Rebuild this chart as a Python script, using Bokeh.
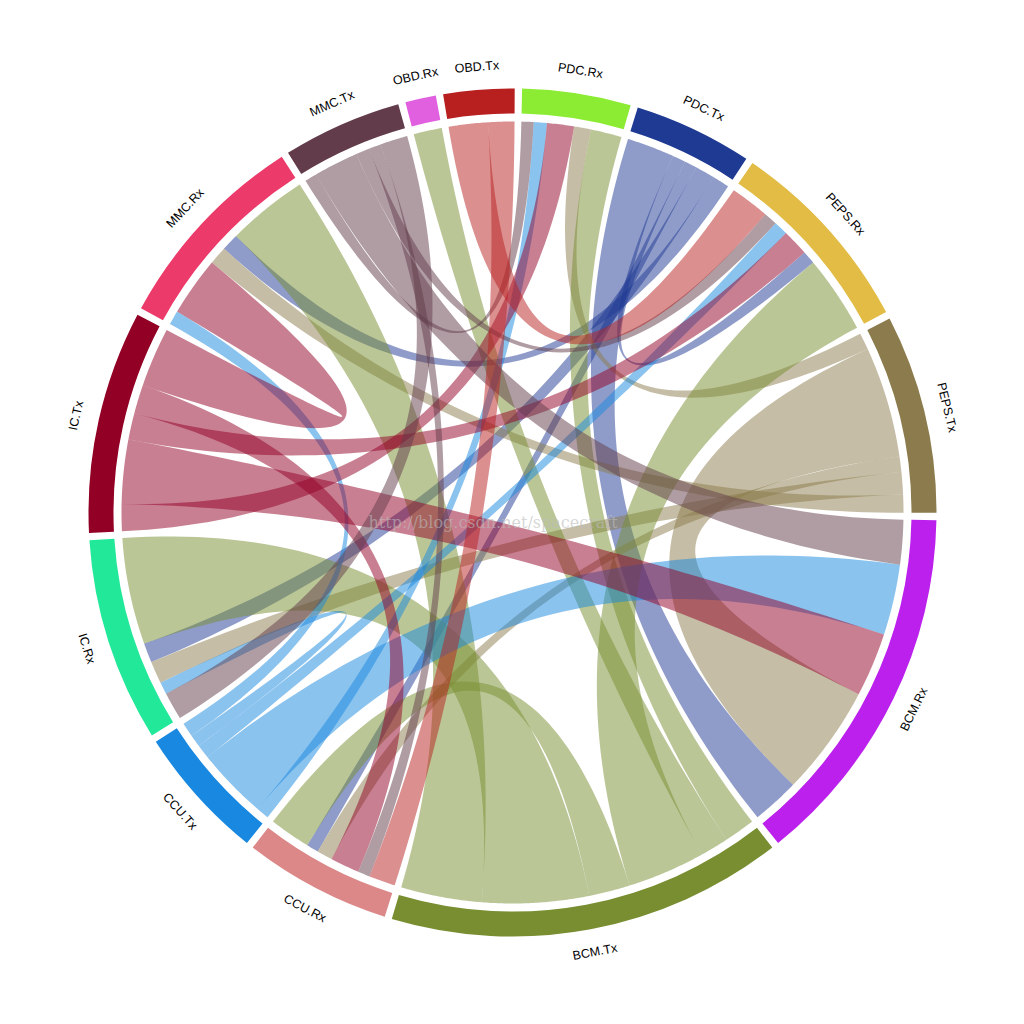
import math
from bokeh.plotting import figure
from bokeh.models import Range1d
from bokeh.embed import file_html
from bokeh.resources import INLINE
from bokeh.core.properties import value

# ---------------- data ----------------
groups = ["PDC.Rx", "PDC.Tx", "PEPS.Rx", "PEPS.Tx", "BCM.Rx", "BCM.Tx", "CCU.Rx",
          "CCU.Tx", "IC.Rx", "IC.Tx", "MMC.Rx", "MMC.Tx", "OBD.Rx", "OBD.Tx"]
group_colors = ["#8cec34", "#1f3a93", "#e2bc45", "#8c7b4c", "#bc20ec", "#788e30", "#dc8888",
                "#1888e0", "#22e899", "#930026", "#ec3b6b", "#623c4a", "#e060e0", "#b81f1f"]

rx_names = ["PDC.Rx", "PEPS.Rx", "BCM.Rx", "CCU.Rx", "IC.Rx", "MMC.Rx", "OBD.Rx"]
flows_PDC_Tx = [0, 1.95, 7.05, 1.8, 2.9, 2.55, 0]
flows_PEPS_Tx = [2.5, 0, 16.4, 2.3, 3.3, 2.7, 0]
flows_BCM_Tx = [4.6, 11.5, 0, 6.1, 15.8, 12.0, 4.2]
flows_CCU_Tx = [1.95, 2.1, 10.5, 0, 1.8, 2.1, 0]
flows_IC_Tx = [4.0, 3.9, 9.5, 4.3, 0, 8.8, 0]
flows_MMC_Tx = [1.8, 2.0, 6.6, 1.8, 4.1, 0, 0]
flows_OBD_Tx = [0, 5.8, 0, 3.9, 0, 0, 0]

tx_flows = {"PDC.Tx": flows_PDC_Tx, "PEPS.Tx": flows_PEPS_Tx, "BCM.Tx": flows_BCM_Tx,
            "CCU.Tx": flows_CCU_Tx, "IC.Tx": flows_IC_Tx, "MMC.Tx": flows_MMC_Tx,
            "OBD.Tx": flows_OBD_Tx}

# order of sub-ribbons inside each receiver / transmitter arc (clockwise)
rx_side_order = ["OBD.Tx", "MMC.Tx", "CCU.Tx", "IC.Tx", "PEPS.Tx", "PDC.Tx", "BCM.Tx"]
tx_side_order = ["PDC.Rx", "OBD.Rx", "BCM.Rx", "PEPS.Rx", "CCU.Rx", "IC.Rx", "MMC.Rx"]

watermark = "http://blog.csdn.net/spacecraft"

# ---------------- layout ----------------
GAP = 1.0
START = 1.3
R_CHORD = 391
R_IN, R_OUT = 399, 424
R_LABEL = 447

flow = {}
for tx, vals in tx_flows.items():
    for rx, v in zip(rx_names, vals):
        if v > 0:
            flow[(tx, rx)] = v

total = 2 * sum(flow.values())
k = (360.0 - GAP * len(groups)) / total

group_span = {}
sub_span = {}
a = START
for g in groups:
    g0 = a
    if g.endswith(".Tx"):
        for rx in tx_side_order:
            v = flow.get((g, rx), 0)
            if v > 0:
                sub_span[(g, rx, "tx")] = (a, a + v * k)
                a += v * k
    else:
        for tx in rx_side_order:
            v = flow.get((tx, g), 0)
            if v > 0:
                sub_span[(tx, g, "rx")] = (a, a + v * k)
                a += v * k
    group_span[g] = (g0, a)
    a += GAP


def pt(theta, r):
    t = math.radians(theta)
    return r * math.sin(t), r * math.cos(t)


def arc_pts(t0, t1, r):
    n = max(3, int(abs(t1 - t0) * 3) + 2)
    return [pt(t0 + (t1 - t0) * i / (n - 1), r) for i in range(n)]


def bez(p, q, n=60):
    out = []
    for i in range(1, n + 1):
        t = i / n
        out.append(((1 - t) ** 2 * p[0] + t * t * q[0], (1 - t) ** 2 * p[1] + t * t * q[1]))
    return out


p = figure(width=1000, height=1000, x_range=Range1d(-512, 488), y_range=Range1d(-488, 512),
           output_backend="svg", toolbar_location=None, min_border=0)
p.axis.visible = False
p.grid.visible = False
p.outline_line_color = None
p.background_fill_color = "white"
p.border_fill_color = "white"

# ribbons
xs, ys, cols = [], [], []
color_of = dict(zip(groups, group_colors))
for (tx, rx), v in flow.items():
    s0, s1 = sub_span[(tx, rx, "tx")]
    t0, t1 = sub_span[(tx, rx, "rx")]
    path = arc_pts(s0, s1, R_CHORD)
    path += bez(path[-1], pt(t0, R_CHORD))
    path += arc_pts(t0, t1, R_CHORD)[1:]
    path += bez(path[-1], pt(s0, R_CHORD))
    xs.append([q[0] for q in path])
    ys.append([q[1] for q in path])
    cols.append(color_of[tx])
p.patches(xs=xs, ys=ys, fill_color=cols, fill_alpha=0.5, line_color=None)

# group arcs
starts = [math.radians(90 - group_span[g][1]) for g in groups]
ends = [math.radians(90 - group_span[g][0]) for g in groups]
p.annular_wedge(x=0, y=0, inner_radius=R_IN, outer_radius=R_OUT,
                start_angle=starts, end_angle=ends, fill_color=group_colors, line_color=None)

# labels
lx, ly, la = [], [], []
for g in groups:
    mid = sum(group_span[g]) / 2
    x, y = pt(mid, R_LABEL)
    lx.append(x)
    ly.append(y)
    rot = mid if (mid < 90 or mid > 270) else mid - 180
    la.append(-math.radians(rot))
p.text(x=lx, y=ly, text=groups, angle=la, text_align="center", text_baseline="middle",
       text_font=value("Liberation Sans"), text_font_size="12.5px", text_color="black")

# watermark
p.text(x=[-144], y=[-10], text=[watermark], text_align="left", text_baseline="middle",
       text_font=value("DejaVu Serif"), text_font_size="16px", text_color="#bbbbbb",
       text_alpha=0.6)

open("out.html", "w").write(file_html(p, INLINE))
